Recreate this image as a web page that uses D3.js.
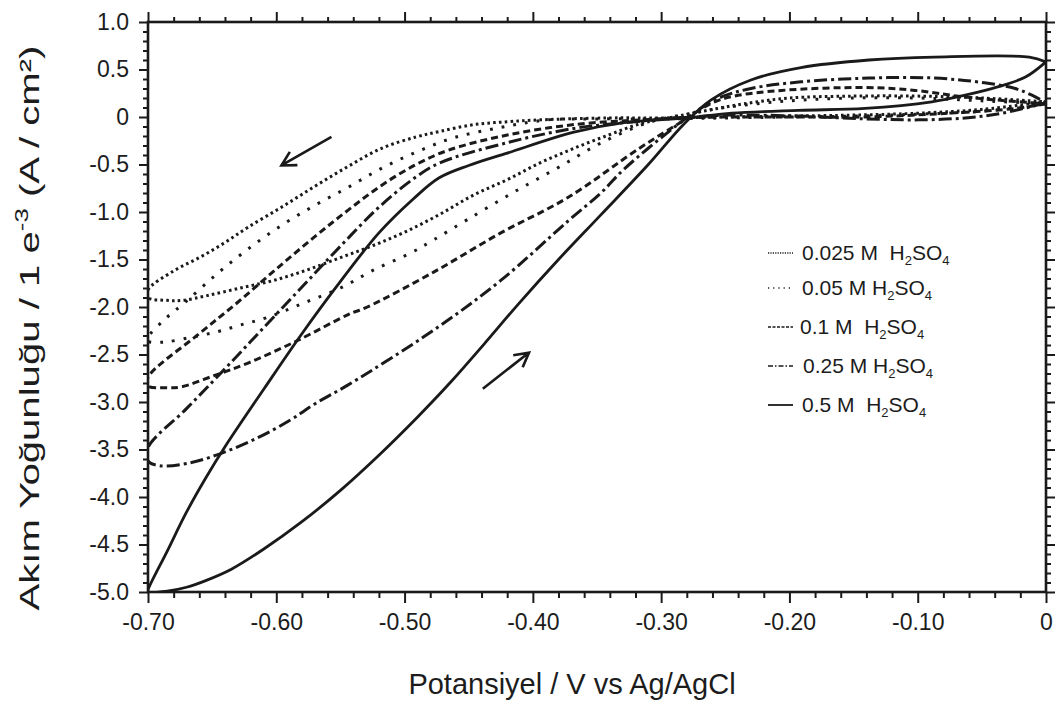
<!DOCTYPE html>
<html><head><meta charset="utf-8">
<script src="https://cdn.jsdelivr.net/npm/d3@7"></script>
<style>
body{margin:0;background:#fff}
svg{display:block}
text{font-family:"Liberation Sans",Arial,sans-serif;fill:#1c1c1c}
</style>
</head><body><svg id="c" width="1058" height="702"></svg>
<script>
// ---------- data ----------
const xTicks = [-0.70,-0.60,-0.50,-0.40,-0.30,-0.20,-0.10,0];
const yTicks = [1.0,0.5,0,-0.5,-1.0,-1.5,-2.0,-2.5,-3.0,-3.5,-4.0,-4.5,-5.0];
const legendLabels = ["0.025 M  ","0.05 M ","0.1 M  ","0.25 M ","0.5 M  "];

// each loop: [potential (V), current density] starting at 0 V, cathodic sweep then anodic sweep
const loop0025 = [[0,0.16],[-0.05,0.08],[-0.1,0.04],[-0.15,0.02],[-0.2,0.01],[-0.25,0.0],[-0.3,-0.01],[-0.341,-0.01],[-0.394,-0.03],[-0.42,-0.05],[-0.446,-0.08],[-0.472,-0.15],[-0.491,-0.21],[-0.518,-0.33],[-0.544,-0.52],[-0.570,-0.73],[-0.596,-0.95],[-0.622,-1.16],[-0.641,-1.33],[-0.660,-1.48],[-0.680,-1.62],[-0.70,-1.82],
  [-0.70,-1.90],[-0.685,-1.93],[-0.673,-1.93],[-0.654,-1.88],[-0.628,-1.80],[-0.602,-1.72],[-0.576,-1.61],[-0.550,-1.48],[-0.524,-1.35],[-0.498,-1.20],[-0.472,-1.02],[-0.446,-0.82],[-0.420,-0.66],[-0.394,-0.48],[-0.368,-0.33],[-0.341,-0.19],[-0.316,-0.07],[-0.290,0.0],[-0.26,0.08],[-0.23,0.15],[-0.2,0.2],[-0.15,0.22],[-0.1,0.22],[-0.05,0.2],[0,0.16]];
const loop005 = [[0,0.14],[-0.05,0.06],[-0.1,0.03],[-0.15,0.01],[-0.2,0.0],[-0.25,-0.01],[-0.3,-0.02],[-0.35,-0.02],[-0.388,-0.03],[-0.425,-0.11],[-0.462,-0.22],[-0.491,-0.37],[-0.518,-0.54],[-0.544,-0.74],[-0.570,-0.93],[-0.597,-1.15],[-0.623,-1.40],[-0.647,-1.66],[-0.671,-1.95],[-0.687,-2.13],[-0.70,-2.32],
  [-0.70,-2.36],[-0.688,-2.37],[-0.667,-2.32],[-0.646,-2.26],[-0.628,-2.19],[-0.607,-2.11],[-0.579,-1.96],[-0.55,-1.80],[-0.524,-1.61],[-0.495,-1.43],[-0.477,-1.29],[-0.451,-1.08],[-0.416,-0.80],[-0.380,-0.53],[-0.345,-0.26],[-0.308,-0.05],[-0.28,0.03],[-0.25,0.1],[-0.2,0.17],[-0.15,0.2],[-0.1,0.2],[-0.05,0.17],[0,0.14]];
const loop01 = [[0,0.14],[-0.024,0.09],[-0.076,0.04],[-0.141,0.0],[-0.193,0.0],[-0.245,0.0],[-0.284,-0.01],[-0.316,-0.03],[-0.368,-0.08],[-0.420,-0.19],[-0.466,-0.35],[-0.491,-0.5],[-0.518,-0.72],[-0.544,-0.98],[-0.570,-1.26],[-0.60,-1.60],[-0.63,-1.95],[-0.66,-2.28],[-0.70,-2.74],
  [-0.70,-2.83],[-0.685,-2.85],[-0.674,-2.84],[-0.648,-2.72],[-0.622,-2.59],[-0.583,-2.35],[-0.544,-2.08],[-0.529,-2.0],[-0.477,-1.63],[-0.425,-1.22],[-0.373,-0.85],[-0.316,-0.32],[-0.284,-0.05],[-0.26,0.15],[-0.243,0.22],[-0.206,0.28],[-0.141,0.31],[-0.102,0.28],[-0.063,0.21],[-0.011,0.15],[0,0.14]];
const loop025 = [[0,0.15],[-0.034,0.04],[-0.063,-0.01],[-0.099,-0.03],[-0.141,-0.02],[-0.193,0.01],[-0.245,0.02],[-0.277,0.0],[-0.329,-0.06],[-0.368,-0.12],[-0.420,-0.27],[-0.472,-0.48],[-0.491,-0.63],[-0.52,-0.95],[-0.55,-1.36],[-0.58,-1.79],[-0.61,-2.22],[-0.64,-2.65],[-0.67,-3.07],[-0.70,-3.48],
  [-0.70,-3.62],[-0.691,-3.67],[-0.667,-3.64],[-0.641,-3.53],[-0.615,-3.38],[-0.589,-3.19],[-0.570,-3.02],[-0.544,-2.82],[-0.477,-2.24],[-0.425,-1.72],[-0.373,-1.10],[-0.347,-0.80],[-0.329,-0.55],[-0.290,-0.11],[-0.277,0.02],[-0.255,0.2],[-0.230,0.30],[-0.191,0.37],[-0.138,0.41],[-0.087,0.41],[-0.048,0.36],[-0.024,0.30],[-0.011,0.23],[0,0.15]];
const loop05 = [[0,0.58],[-0.016,0.42],[-0.037,0.32],[-0.063,0.23],[-0.089,0.16],[-0.141,0.09],[-0.193,0.07],[-0.245,0.04],[-0.279,-0.01],[-0.329,-0.06],[-0.368,-0.16],[-0.420,-0.38],[-0.45,-0.51],[-0.473,-0.64],[-0.493,-0.86],[-0.52,-1.22],[-0.555,-1.82],[-0.581,-2.30],[-0.609,-2.85],[-0.638,-3.43],[-0.655,-3.80],[-0.670,-4.16],[-0.685,-4.57],[-0.70,-4.98],
  [-0.70,-5.0],[-0.685,-4.99],[-0.67,-4.95],[-0.655,-4.88],[-0.635,-4.76],[-0.61,-4.55],[-0.58,-4.26],[-0.55,-3.93],[-0.52,-3.56],[-0.49,-3.16],[-0.464,-2.79],[-0.438,-2.39],[-0.412,-1.98],[-0.38,-1.50],[-0.347,-1.03],[-0.31,-0.50],[-0.282,-0.07],[-0.261,0.18],[-0.230,0.39],[-0.191,0.52],[-0.138,0.60],[-0.087,0.63],[-0.013,0.63],[0,0.58]];
const loops = [loop0025, loop005, loop01, loop025, loop05];

// ---------- layout / style ----------
const W = 1058, H = 702;
const m = {left:148, right:1046, top:22, bottom:592};
const x = d3.scaleLinear().domain([-0.7,0]).range([m.left,m.right]);
const y = d3.scaleLinear().domain([-5,1]).range([m.bottom,m.top]);
const ink = "#1a1a1a";
const dashes = ["2.6 3.2","2.8 9","7 4","13 4 3 4",null];
const legDashes = ["1.2 1.2","1.2 4","3 1.5","5 2 1.5 2",null];

const svg = d3.select("#c");
svg.append("rect").attr("width",W).attr("height",H).attr("fill","#fff");

svg.append("defs").append("clipPath").attr("id","clip")
  .append("rect").attr("x",m.left).attr("y",m.top).attr("width",m.right-m.left).attr("height",m.bottom-m.top);

// curves
const line = d3.line().x(d=>x(d[0])).y(d=>y(d[1])).curve(d3.curveCatmullRom.alpha(0.5));
const gc = svg.append("g").attr("clip-path","url(#clip)");
loops.forEach((L,i)=>{
  gc.append("path").attr("d",line(L)).attr("fill","none").attr("stroke",ink)
    .attr("stroke-width", i===4?2.8:3).attr("stroke-dasharray",dashes[i]).attr("stroke-linejoin","round");
});

// axes
const yMinor = d3.range(-50,11,1).map(v=>v/10).filter(v=>Math.abs(v*2-Math.round(v*2))>1e-6);
const xMinor = d3.range(-35,1,1).map(v=>v/50).filter(v=>Math.abs(v*10-Math.round(v*10))>1e-6);
const fy = d=> d===0 ? "0" : d.toFixed(1);
const fx = d=> d===0 ? "0" : d.toFixed(2);

function styleAxis(g){
  g.select(".domain").remove();
  g.selectAll("line").attr("stroke",ink).attr("stroke-width",2);
  g.selectAll("text").attr("font-size",23).attr("fill",ink).attr("font-family","Liberation Sans, Arial, sans-serif");
}
svg.append("g").attr("transform",`translate(${m.left},0)`).call(d3.axisLeft(y).tickValues(yTicks).tickFormat(fy).tickSize(9).tickPadding(10)).call(styleAxis);
svg.append("g").attr("transform",`translate(${m.left},0)`).call(d3.axisLeft(y).tickValues(yMinor).tickFormat("").tickSize(5)).call(styleAxis);
svg.append("g").attr("transform",`translate(${m.right},0)`).call(d3.axisRight(y).tickValues(yTicks).tickFormat("").tickSize(9)).call(styleAxis);
svg.append("g").attr("transform",`translate(${m.right},0)`).call(d3.axisRight(y).tickValues(yMinor).tickFormat("").tickSize(5)).call(styleAxis);
svg.append("g").attr("transform",`translate(0,${m.bottom})`).call(d3.axisBottom(x).tickValues(xTicks).tickFormat(fx).tickSize(11).tickPadding(11)).call(styleAxis);
svg.append("g").attr("transform",`translate(0,${m.bottom})`).call(d3.axisBottom(x).tickValues(xMinor).tickFormat("").tickSize(6)).call(styleAxis);
svg.append("g").attr("transform",`translate(0,${m.top})`).call(d3.axisTop(x).tickValues(xTicks).tickFormat("").tickSize(10)).call(styleAxis);
svg.append("g").attr("transform",`translate(0,${m.top})`).call(d3.axisTop(x).tickValues(xMinor).tickFormat("").tickSize(5)).call(styleAxis);

svg.append("rect").attr("x",m.left).attr("y",m.top).attr("width",m.right-m.left).attr("height",m.bottom-m.top)
  .attr("fill","none").attr("stroke",ink).attr("stroke-width",2.6);

// axis titles
svg.append("text").attr("x",572).attr("y",694).attr("text-anchor","middle")
  .attr("font-size",29).text("Potansiyel / V vs Ag/AgCl");
const yt = svg.append("text").attr("transform","translate(39,328) rotate(-90)").attr("text-anchor","middle")
  .attr("font-size",28).attr("textLength",565).attr("lengthAdjust","spacingAndGlyphs");
yt.append("tspan").text("Akım Yoğunluğu / 1 e");
yt.append("tspan").attr("dy",-11).attr("font-size",18).text("-3");
yt.append("tspan").attr("dy",11).text(" (A / cm²)");

// legend
const lg = svg.append("g");
legendLabels.forEach((lab,i)=>{
  const yy = [253,288,327,366,405][i];
  const tx = [802,802,800,803,802][i];
  lg.append("line").attr("x1",768).attr("x2",793).attr("y1",yy).attr("y2",yy)
    .attr("stroke",ink).attr("stroke-width",i===4?1.8:1.4).attr("stroke-dasharray",legDashes[i]);
  const t = lg.append("text").attr("x",tx).attr("y",yy+7).attr("font-size",21).style("white-space","pre");
  t.append("tspan").text(lab+"H");
  t.append("tspan").attr("dy",5).attr("font-size",13).text("2");
  t.append("tspan").attr("dy",-5).text("SO");
  t.append("tspan").attr("dy",5).attr("font-size",13).text("4");
});

// arrows
function arrow(v0,i0,v1,i1){
  const x0=x(v0),y0=y(i0),x1=x(v1),y1=y(i1);
  const a=Math.atan2(y0-y1,x0-x1), L=16, s=0.5;
  const p=`M${x0},${y0}L${x1},${y1}M${x1+L*Math.cos(a+s)},${y1+L*Math.sin(a+s)}L${x1},${y1}L${x1+L*Math.cos(a-s)},${y1+L*Math.sin(a-s)}`;
  svg.append("path").attr("d",p).attr("fill","none").attr("stroke",ink).attr("stroke-width",2.6);
}
arrow(-0.557,-0.21,-0.596,-0.51);
arrow(-0.439,-2.86,-0.403,-2.48);
</script></body></html>
